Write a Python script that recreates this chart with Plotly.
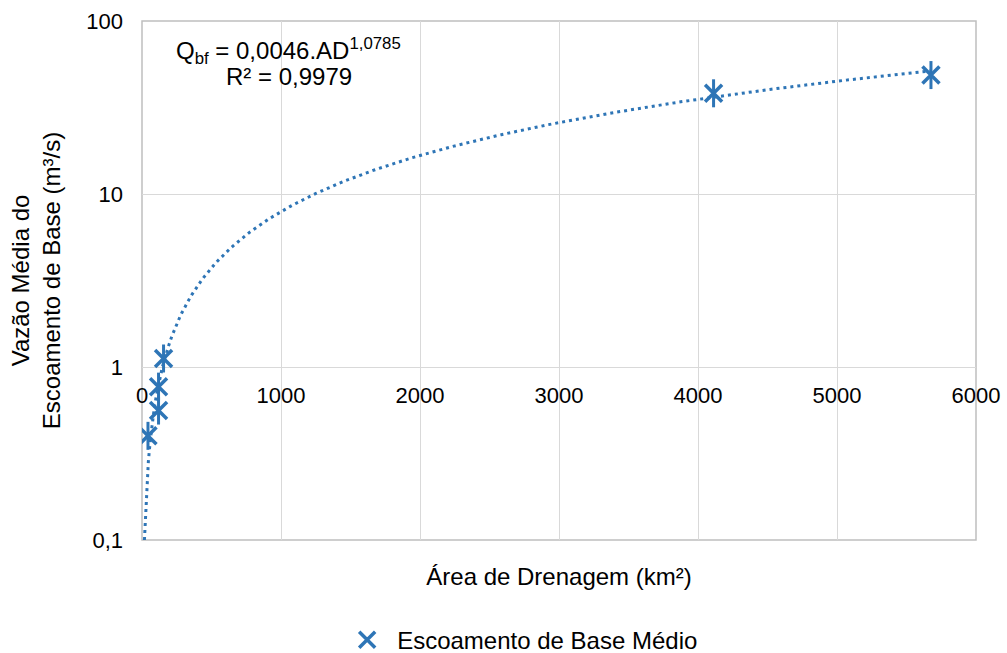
import numpy as np
import plotly.graph_objects as go

# Data
area_km2 = [43, 119, 119, 155, 4112, 5676]
baseflow_m3s = [0.40, 0.56, 0.77, 1.12, 38.2, 48.7]

# Trend-line coefficients shown on the chart (power fit)
coef_a = 0.0046
coef_b = 1.0785

x_ticks = [0, 1000, 2000, 3000, 4000, 5000, 6000]
y_ticks = [0.1, 1, 10, 100]
y_ticktext = ["0,1", "1", "10", "100"]

BLUE = "#2E75B6"
FONT = "Liberation Sans, Arial, sans-serif"

# power trend line evaluated from the displayed equation
x_start = (0.1 / coef_a) ** (1 / coef_b)
x_fit = np.linspace(x_start, max(area_km2), 400)
y_fit = coef_a * x_fit ** coef_b

fig = go.Figure()

fig.add_trace(go.Scatter(
    x=x_fit, y=y_fit, mode="lines", xaxis="x2",
    line=dict(color=BLUE, width=3, dash="3px,4px"),
    showlegend=False, hoverinfo="skip"))

# vertical bar of the star marker
fig.add_trace(go.Scatter(
    x=area_km2, y=baseflow_m3s, mode="markers",
    marker=dict(symbol="line-ns-open", size=20, color=BLUE,
                line=dict(color=BLUE, width=3)),
    showlegend=False))

fig.add_trace(go.Scatter(
    x=area_km2, y=baseflow_m3s, mode="markers",
    name="Escoamento de Base Médio",
    marker=dict(symbol="x-thin-open", size=17, color=BLUE,
                line=dict(color=BLUE, width=3.5))))

fig.update_layout(
    width=1007, height=653,
    margin=dict(l=142, r=31, t=21, b=113, autoexpand=False),
    paper_bgcolor="white", plot_bgcolor="white",
    font=dict(family=FONT, color="#000000"),
    separators=",.",
    xaxis=dict(
        range=[0, 6000], tickvals=x_ticks, showticklabels=False,
        showgrid=True, gridcolor="#D9D9D9", gridwidth=1,
        zeroline=False, showline=False, ticks="", automargin=False,
        title=dict(text="Área de Drenagem (km²)", font=dict(size=24), standoff=28),
    ),
    xaxis2=dict(
        range=[0, 6000], overlaying="x", matches="x", anchor="free", position=1/3,
        side="bottom", tickvals=x_ticks, ticktext=[str(v) for v in x_ticks],
        showgrid=False, zeroline=False, showline=False, ticks="", automargin=False,
        tickfont=dict(size=22), ticklabelstandoff=13,
    ),
    yaxis=dict(
        type="log", range=[-1, 2], tickvals=y_ticks, ticktext=y_ticktext,
        showgrid=True, gridcolor="#D9D9D9", gridwidth=1,
        zeroline=False, showline=False, ticks="", automargin=False,
        tickfont=dict(size=22), ticklabelstandoff=18,
        title=dict(text="Vazão Média do<br>Escoamento de Base (m³/s)",
                   font=dict(size=24), standoff=18),
    ),
    legend=dict(
        orientation="h", x=0.234, xanchor="left", y=-0.193, yanchor="middle",
        font=dict(size=24), bgcolor="rgba(0,0,0,0)", itemwidth=50,
    ),
    shapes=[dict(type="rect", xref="x domain", yref="y domain",
                 x0=0, x1=1, y0=0, y1=1, layer="below",
                 line=dict(color="#BFBFBF", width=1.5))],
    annotations=[
        dict(text="Q<sub>bf</sub> = 0,0046.AD<sup>1,0785</sup>",
             xref="paper", yref="paper", x=0.176, y=1, xanchor="center",
             yanchor="middle", yshift=-30, showarrow=False,
             font=dict(size=24)),
        dict(text="R² = 0,9979",
             xref="paper", yref="paper", x=0.176, y=1, xanchor="center",
             yanchor="middle", yshift=-55, showarrow=False,
             font=dict(size=24)),
    ],
)

fig.write_html("out.html")
